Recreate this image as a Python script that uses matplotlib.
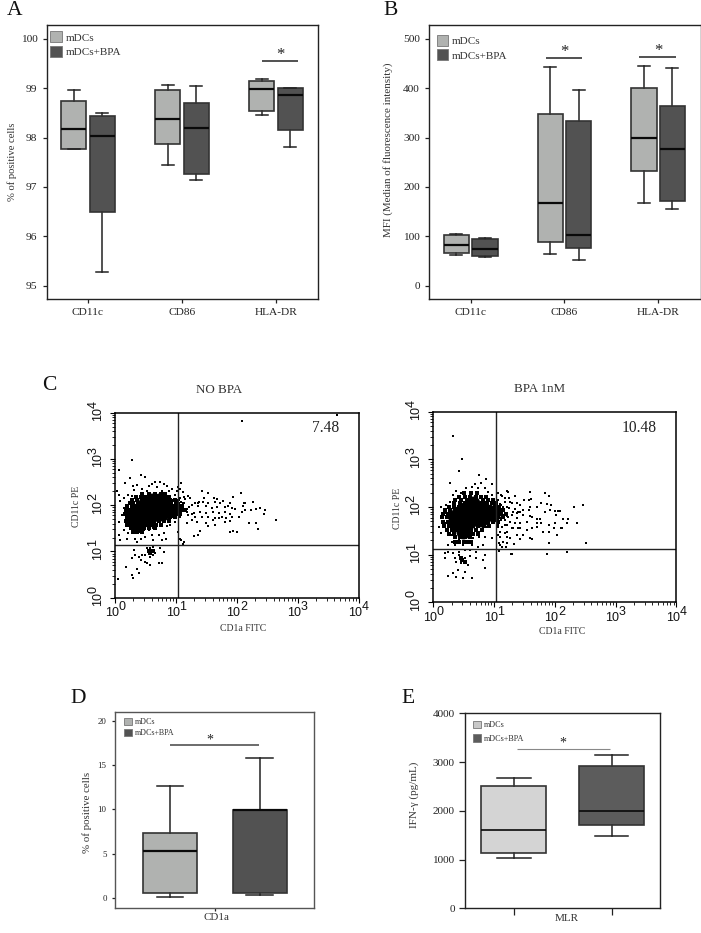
import matplotlib
matplotlib.use("Agg")
import matplotlib.pyplot as plt
from matplotlib.patches import Patch
import numpy as np

plt.rcParams['font.family'] = ['Liberation Serif', 'DejaVu Serif']

W, H = 701, 933

# box values: low whisker, q1, median, q3, high whisker
categories = ['CD11c', 'CD86', 'HLA-DR']
series_names = ['mDCs', 'mDCs+BPA']

a_mdcs = [[97.77, 97.77, 98.17, 98.74, 98.96],
          [97.45, 97.87, 98.38, 98.97, 99.07],
          [98.45, 98.54, 98.99, 99.14, 99.18]]
a_bpa = [[95.28, 96.50, 98.04, 98.44, 98.50],
         [97.14, 97.27, 98.20, 98.71, 99.05],
         [97.81, 98.15, 98.86, 99.00, 99.00]]
a_ticks = [95, 96, 97, 98, 99, 100]

b_mdcs = [[62, 67, 82, 102, 105],
          [65, 89, 167, 348, 442],
          [167, 233, 299, 400, 445]]
b_bpa = [[58, 61, 75, 95, 97],
         [53, 76, 102, 333, 396],
         [155, 172, 277, 364, 441]]
b_ticks = [0, 100, 200, 300, 400, 500]

d_mdcs = [0.1, 0.55, 5.35, 7.4, 12.7]
d_bpa = [0.3, 0.55, 9.9, 9.9, 15.8]
d_ticks = [0, 5, 10, 15, 20]

e_mdcs = [1030, 1140, 1600, 2510, 2665]
e_bpa = [1490, 1700, 2000, 2925, 3150]
e_ticks = [0, 1000, 2000, 3000, 4000]

# flow cytometry, log10 of (CD1a FITC, CD11c PE), read dot by dot
nobpa_core = [(.61, 2.11), (.72, 2.11), (.50, 2.04), (.63, 2.00), (.77, 2.00), (.44, 1.93),
              (.58, 1.90), (.72, 1.90), (.83, 1.93), (.36, 1.82), (.50, 1.79), (.63, 1.79),
              (.77, 1.82), (.31, 1.75), (.42, 1.68), (.55, 1.68), (.39, 1.57), (.31, 1.64)]
nobpa_halo = [(.45, 2.25), (.55, 2.25), (.65, 2.25), (.75, 2.25), (.82, 2.25),
              (.35, 2.18), (.42, 2.18), (.50, 2.18), (.58, 2.18), (.66, 2.18), (.74, 2.18), (.82, 2.18), (.88, 2.18),
              (.28, 2.12), (.36, 2.12), (.44, 2.12), (.52, 2.12), (.84, 2.12), (.90, 2.12), (.98, 2.12),
              (.24, 2.05), (.30, 2.05), (.38, 2.05), (.44, 2.05), (.86, 2.05), (.92, 2.05), (1.00, 2.05),
              (.20, 1.98), (.28, 1.98), (.35, 1.98), (.90, 1.98), (.97, 1.98), (1.03, 1.98), (1.10, 1.98),
              (.18, 1.90), (.25, 1.90), (.32, 1.90), (.90, 1.90), (.96, 1.90), (1.02, 1.90), (1.08, 1.90), (1.15, 1.90),
              (.16, 1.82), (.22, 1.82), (.28, 1.82), (.88, 1.82), (.94, 1.82), (1.00, 1.82), (1.06, 1.82),
              (.20, 1.74), (.24, 1.74), (.66, 1.74), (.74, 1.74), (.82, 1.74), (.90, 1.74), (.98, 1.74),
              (.18, 1.66), (.24, 1.66), (.64, 1.66), (.72, 1.66), (.80, 1.66), (.88, 1.66),
              (.20, 1.58), (.26, 1.58), (.52, 1.58), (.60, 1.58), (.68, 1.58), (.76, 1.58),
              (.26, 1.50), (.32, 1.50), (.40, 1.50), (.48, 1.50), (.56, 1.50), (.66, 1.50),
              (.30, 1.42), (.36, 1.42), (.44, 1.42),
              (.55, 1.02), (.58, .97), (.62, 1.00)]
nobpa_dots = [(2.09, 3.83), (3.64, 3.95), (.07, 2.76), (.28, 2.98), (.05, .40),
              (.43, 2.65), (.50, 2.62), (.25, 2.58), (.17, 2.47), (.66, 2.51), (.74, 2.51),
              (.61, 2.46), (.80, 2.46), (.55, 2.41), (.69, 2.40), (.85, 2.41), (.36, 2.44),
              (.29, 2.41), (.31, 2.33), (.44, 2.34), (.53, 2.31), (.77, 2.31), (.88, 2.31),
              (.94, 2.36), (1.02, 2.31), (.21, 2.22), (.28, 2.20), (.14, 2.15), (.09, 2.10),
              (.03, 2.31), (.07, 2.22), (.91, 2.18), (.99, 2.22), (.96, 2.11), (1.07, 2.15),
              (1.15, 2.13), (1.05, 2.04), (1.13, 2.04), (1.21, 1.97), (.99, 1.93), (1.05, 1.86),
              (1.18, 1.86), (1.26, 1.82), (1.37, 2.04), (1.07, 1.75), (.96, 1.75), (.91, 1.68),
              (.99, 1.64), (.85, 1.54), (.91, 1.57), (.20, 1.97), (.14, 1.93), (.22, 1.82),
              (.12, 1.79), (.17, 1.69), (.06, 1.64), (.20, 1.57), (.25, 1.50), (.14, 1.46),
              (.22, 1.39), (.31, 1.43), (.39, 1.43), (.47, 1.46), (.55, 1.46), (.63, 1.50),
              (.74, 1.54), (.80, 1.39), (.72, 1.36), (.61, 1.36), (.50, 1.32), (.42, 1.28),
              (.33, 1.28), (.36, 1.21), (.63, 1.25), (.77, 1.25), (.83, 1.28), (.20, 1.28),
              (.06, 1.36), (.09, 1.25), (1.07, 1.28), (1.13, 1.21),
              (.53, 1.07), (.58, 1.07), (.63, 1.09), (.74, 1.07), (.80, .99), (.66, .97),
              (.55, .99), (.50, .92), (.58, .89), (.63, .92), (.44, .92), (.31, 1.03),
              (.33, .92), (.39, .87), (.28, .85), (.42, .82), (.50, .78), (.58, .71),
              (.72, .74), (.77, .74), (.53, .74), (.36, .63), (.18, .66), (.28, .49),
              (.29, .42), (.39, .53),
              (1.08, 2.49), (1.03, 2.40), (1.06, 2.36), (1.11, 2.29), (1.19, 2.20), (1.14, 2.18),
              (1.23, 2.15), (1.42, 2.31), (1.53, 2.26), (1.46, 2.16), (1.63, 2.15), (1.68, 2.13),
              (1.78, 2.10), (1.94, 2.17), (2.07, 2.26), (2.27, 2.08), (2.11, 2.05), (2.14, 2.04),
              (1.31, 2.05), (1.38, 2.08), (1.45, 2.06), (1.53, 2.04), (1.64, 2.06), (1.72, 2.04),
              (1.89, 2.04), (1.26, 2.00), (1.36, 1.98), (1.50, 1.99), (1.59, 1.95), (1.67, 1.97),
              (1.81, 1.97), (1.86, 1.98), (2.10, 1.98), (2.38, 1.95), (2.31, 1.92), (2.23, 1.90),
              (2.46, 1.90), (1.92, 1.93), (1.97, 1.91), (2.08, 1.86), (2.45, 1.81), (1.18, 1.91),
              (1.29, 1.84), (1.40, 1.86), (1.50, 1.84), (1.61, 1.86), (1.70, 1.84), (1.81, 1.86),
              (1.89, 1.82), (2.03, 1.75), (2.13, 1.90), (1.20, 1.79), (1.31, 1.75), (1.42, 1.74),
              (1.53, 1.75), (1.64, 1.73), (1.75, 1.75), (1.83, 1.72), (1.92, 1.74), (1.18, 1.61),
              (1.26, 1.68), (1.34, 1.64), (1.50, 1.61), (1.61, 1.68), (1.70, 1.72), (1.81, 1.64),
              (1.89, 1.66), (2.20, 1.61), (2.31, 1.61), (2.64, 1.69), (2.34, 1.48), (1.64, 1.57),
              (1.53, 1.55), (1.89, 1.43), (1.94, 1.45), (2.01, 1.43), (1.40, 1.45), (1.37, 1.35),
              (1.30, 1.34), (1.04, 1.43), (1.05, 1.28), (1.08, 1.25), (1.14, 1.21), (1.12, 1.16),
              (1.01, 2.11), (1.05, 2.11), (1.08, 2.08), (1.01, 2.00), (1.07, 1.98), (1.01, 1.90),
              (1.07, 1.86), (1.03, 1.79), (1.09, 1.82), (1.12, 2.04)]

bpa_core = [(.65, 2.08), (.54, 1.97), (.71, 1.97), (.82, 1.97), (.96, 1.90), (.41, 1.87),
            (.57, 1.83), (.71, 1.83), (.85, 1.83), (.98, 1.83), (.35, 1.73), (.49, 1.73),
            (.63, 1.73), (.79, 1.73), (.54, 1.59), (.41, 1.62), (.49, 1.48)]
bpa_halo = [(.50, 2.30), (.62, 2.30), (.72, 2.30),
            (.42, 2.22), (.52, 2.22), (.60, 2.22), (.70, 2.22), (.78, 2.22), (.86, 2.22),
            (.36, 2.15), (.46, 2.15), (.55, 2.15), (.82, 2.15), (.90, 2.15), (.98, 2.15),
            (.34, 2.08), (.44, 2.08), (.52, 2.08), (.80, 2.08), (.88, 2.08), (.96, 2.08), (1.04, 2.08),
            (.26, 2.00), (.34, 2.00), (.42, 2.00), (.94, 2.00), (1.02, 2.00), (1.08, 2.00),
            (.20, 1.93), (.28, 1.93), (.36, 1.93), (1.08, 1.93), (1.14, 1.93),
            (.16, 1.86), (.24, 1.86), (.30, 1.86), (1.06, 1.86), (1.12, 1.86), (1.20, 1.86),
            (.14, 1.78), (.22, 1.78), (.28, 1.78), (.98, 1.78), (1.06, 1.78), (1.14, 1.78),
            (.16, 1.68), (.24, 1.68), (.90, 1.68), (.98, 1.68), (1.06, 1.68),
            (.18, 1.60), (.26, 1.60), (.32, 1.60), (.66, 1.60), (.74, 1.60), (.84, 1.60), (.92, 1.60),
            (.22, 1.52), (.30, 1.52), (.36, 1.52), (.62, 1.52), (.70, 1.52), (.80, 1.52),
            (.26, 1.44), (.34, 1.44), (.58, 1.44), (.66, 1.44), (.74, 1.44),
            (.36, 1.36), (.44, 1.36), (.52, 1.36), (.60, 1.36),
            (.36, 1.26), (.42, 1.26), (.50, 1.26), (.56, 1.26), (.62, 1.26),
            (.45, .92), (.48, .88), (.52, .85)]
bpa_dots = [(.32, 3.48), (.48, 3.01),
            (.43, 2.76), (.76, 2.67), (.28, 2.51), (.68, 2.48), (.79, 2.50), (.87, 2.58),
            (.96, 2.48), (.54, 2.39), (.64, 2.43), (.74, 2.39), (.85, 2.39), (.38, 2.34),
            (.32, 2.25), (.46, 2.29), (.90, 2.32), (.97, 2.25), (1.12, 2.25), (1.23, 2.32),
            (1.34, 2.23), (1.07, 2.15), (1.18, 2.18), (1.26, 2.11), (1.37, 2.08), (.21, 2.04),
            (.12, 2.01), (.27, 2.11), (1.12, 2.04), (1.21, 1.99), (1.31, 1.90), (1.42, 1.90),
            (1.09, 1.90), (1.23, 1.80), (1.12, 1.73), (1.37, 1.76), (.19, 1.87), (.13, 1.76),
            (.21, 1.66), (.10, 1.59), (.24, 1.55), (.12, 1.45), (.30, 1.41), (.35, 1.34),
            (.76, 1.48), (.87, 1.59), (.96, 1.66), (1.07, 1.59), (1.18, 1.62), (1.29, 1.55),
            (1.40, 1.55), (1.18, 1.45), (1.26, 1.34), (1.07, 1.41), (1.15, 1.27), (.76, 1.38),
            (.85, 1.38), (.96, 1.34), (.65, 1.34), (.54, 1.34), (.43, 1.31), (.30, 1.27),
            (.24, 1.20), (.35, 1.20), (.49, 1.20), (.63, 1.20), (.74, 1.17), (.82, 1.20),
            (1.09, 1.20),
            (.24, 1.06), (.19, 1.03), (.32, 1.03), (.43, 1.06), (.52, 1.10), (.60, 1.10),
            (.71, 1.06), (.85, .99), (.82, .89), (.71, .94), (.60, .97), (.52, .92),
            (.43, .99), (.35, .92), (.38, .85), (.46, .82), (.57, .78), (.19, .94),
            (.85, .71), (1.29, 1.01), (.41, .68), (.52, .64), (.32, .61), (.24, .55),
            (.49, .50), (.64, .52), (.38, .54),
            (1.07, 2.29), (1.21, 2.34), (1.13, 2.24), (1.24, 2.18), (1.35, 2.23), (1.59, 2.32),
            (1.84, 2.29), (1.91, 2.24), (1.50, 2.15), (1.57, 2.15), (1.61, 2.16), (1.18, 2.11),
            (1.29, 2.08), (1.43, 2.04), (1.59, 2.01), (1.70, 1.99), (1.78, 2.08), (1.87, 2.06),
            (1.94, 2.04), (2.32, 2.01), (2.47, 2.04), (1.10, 2.06), (1.07, 1.97), (1.15, 2.01),
            (1.24, 1.97), (1.35, 1.95), (1.40, 1.90), (1.48, 1.94), (1.57, 1.94), (1.84, 1.90),
            (1.92, 1.94), (2.00, 1.92), (2.06, 1.92), (2.09, 1.92), (2.02, 1.83), (2.14, 1.74),
            (2.21, 1.74), (2.36, 1.66), (2.20, 1.66), (2.11, 1.55), (2.12, 1.55), (1.07, 1.87),
            (1.14, 1.83), (1.21, 1.81), (1.29, 1.83), (1.37, 1.87), (1.48, 1.83), (1.59, 1.81),
            (1.62, 1.78), (1.70, 1.74), (1.76, 1.74), (1.10, 1.76), (1.18, 1.73), (1.26, 1.69),
            (1.35, 1.67), (1.43, 1.67), (1.54, 1.69), (1.70, 1.66), (1.78, 1.66), (1.90, 1.62),
            (2.00, 1.67), (1.07, 1.62), (1.13, 1.59), (1.21, 1.62), (1.32, 1.55), (1.43, 1.55),
            (1.54, 1.52), (1.62, 1.55), (1.70, 1.59), (1.81, 1.48), (1.90, 1.48), (1.98, 1.55),
            (2.03, 1.41), (1.10, 1.48), (1.21, 1.48), (1.37, 1.41), (1.48, 1.41), (1.59, 1.34),
            (1.62, 1.32), (1.10, 1.38), (1.21, 1.36), (1.43, 1.32), (1.90, 1.25), (2.51, 1.25),
            (1.08, 1.24), (1.21, 1.25), (1.33, 1.22), (1.13, 1.17), (1.19, 1.17), (1.08, 1.08),
            (1.28, 1.01), (1.87, 1.01), (2.20, 1.06)]

decades = [0, 1, 2, 3, 4]


def px_axes(fig, left, top, right, bottom):
    return fig.add_axes([left / W, 1 - bottom / H, (right - left) / W, (bottom - top) / H])


def stats(values):
    return {'whislo': values[0], 'q1': values[1], 'med': values[2], 'q3': values[3],
            'whishi': values[4], 'fliers': []}


def boxes(ax, values, pos, width, cap, color, edge='#333333', med_lw=1.6):
    ax.bxp([stats(v) for v in values], positions=pos, widths=width, capwidths=cap,
           patch_artist=True, showfliers=False, manage_ticks=False,
           boxprops=dict(facecolor=color, edgecolor=edge, linewidth=1.2),
           whiskerprops=dict(color=edge, linewidth=1.2),
           capprops=dict(color='#222222', linewidth=1.1),
           medianprops=dict(color='#0a0a0a', linewidth=med_lw))


def legend_at(ax, x, y, size, colors, hl, hh, spacing, pad):
    handles = [Patch(facecolor=c, edgecolor='#777777', linewidth=.6) for c in colors]
    leg = ax.legend(handles, series_names, loc='upper left', frameon=False, fontsize=size,
                    bbox_to_anchor=(x / W, 1 - y / H), bbox_transform=plt.gcf().transFigure,
                    borderaxespad=0, borderpad=0, handlelength=hl, handleheight=hh,
                    labelspacing=spacing, handletextpad=pad, labelcolor='#333333')
    return leg


def sig(ax, x0, x1, y, star_x, star_y, color='#222222', lw=1.1, size=12):
    ax.plot([x0, x1], [y, y], color=color, lw=lw, solid_capstyle='butt')
    ax.text(star_x, star_y, '*', ha='center', va='center', fontsize=size, color='#222222')


def style(ax, ticks, size=8.2, length=3, color='#222222', spine='#222222', lw=1.0):
    ax.set_yticks(ticks)
    ax.tick_params(axis='both', labelsize=size, length=length, width=.9, color=color,
                   labelcolor='#222222', pad=3.5)
    for s in ax.spines.values():
        s.set_color(spine)
        s.set_linewidth(lw)


def log_labels(ax):
    # the decade labels of the cytometer plots, with full size exponents
    for d in decades:
        ax.annotate('10', xy=(10.0 ** d, 0), xycoords=('data', 'axes fraction'),
                    xytext=(-2.4, -11.2), textcoords='offset points', ha='center', va='center',
                    fontsize=9, family='Liberation Sans', color='#111111')
        ax.annotate(str(d), xy=(10.0 ** d, 0), xycoords=('data', 'axes fraction'),
                    xytext=(4.8, -6.8), textcoords='offset points', ha='center', va='center',
                    fontsize=9, family='Liberation Sans', color='#111111')
        ax.annotate('10', xy=(0, 10.0 ** d), xycoords=('axes fraction', 'data'),
                    xytext=(-12.2, -1), textcoords='offset points', ha='center', va='center',
                    fontsize=9, family='Liberation Sans', color='#111111', rotation=90)
        ax.annotate(str(d), xy=(0, 10.0 ** d), xycoords=('axes fraction', 'data'),
                    xytext=(-15.6, 6.2), textcoords='offset points', ha='center', va='center',
                    fontsize=9, family='Liberation Sans', color='#111111', rotation=90)


def cytometry(ax, core, halo, dots, gate_x, gate_y, value, value_x, value_y):
    core = np.array(core)
    halo = np.array(halo)
    dots = np.array(dots)
    ax.set_xscale('log')
    ax.set_yscale('log')
    ax.set_xlim(1, 1e4)
    ax.set_ylim(1, 1e4)
    ax.scatter(10 ** core[:, 0], 10 ** core[:, 1], s=100, c='black', linewidths=0)
    ax.scatter(10 ** halo[:, 0], 10 ** halo[:, 1], s=5, c='black', marker='s', linewidths=0)
    ax.scatter(10 ** dots[:, 0], 10 ** dots[:, 1], s=1.2, c='black', marker='s', linewidths=0)
    ax.axvline(gate_x, color='#222222', lw=1.0)
    ax.axhline(gate_y, color='#222222', lw=1.0)
    ax.text(value_x, value_y, value, transform=ax.transAxes, ha='center', va='center',
            fontsize=11.2, color='#222222')
    ax.tick_params(which='major', length=3.5, width=.8, labelbottom=False, labelleft=False)
    ax.tick_params(which='minor', length=2, width=.6, labelbottom=False, labelleft=False)
    for s in ax.spines.values():
        s.set_linewidth(1.1)
    log_labels(ax)


fig = plt.figure(figsize=(W / 100, H / 100), dpi=100)


def label(x, y, s, size=8, rotation=0, color='#333333', ha='center', va='center'):
    fig.text(x / W, 1 - y / H, s, fontsize=size, rotation=rotation, color=color, ha=ha, va=va)


light = '#b0b2b0'
dark = '#525252'
base = np.arange(3)
off = 0.152

# A
ax = px_axes(fig, 46.5, 25, 317.5, 299)
boxes(ax, a_mdcs, base - off, .27, .128, light)
boxes(ax, a_bpa, base + off, .27, .128, dark)
ax.set_xlim(-.44, 2.44)
ax.set_ylim(94.73, 100.28)
ax.set_xticks(base, categories)
style(ax, a_ticks)
sig(ax, 1.848, 2.231, 99.55, 2.05, 99.68)
legend_at(ax, 50, 31.5, 8, [light, dark], 1.05, 1.1, .3, .35)
label(12, 162, '% of positive cells', 7.7, 90)

# B
ax = px_axes(fig, 429, 25, 700.5, 299)
boxes(ax, b_mdcs, base - off, .27, .128, light)
boxes(ax, b_bpa, base + off, .27, .128, dark)
ax.set_xlim(-.445, 2.452)
ax.set_ylim(-27, 528)
ax.set_xticks(base, categories)
style(ax, b_ticks)
sig(ax, .804, 1.191, 461.6, 1.0, 473)
sig(ax, 1.80, 2.188, 463, 2.006, 475)
legend_at(ax, 436.5, 35, 8, [light, dark], 1.05, 1.1, .3, .35)
label(388, 150, 'MFI (Median of fluorescence intensity)', 7.9, 90)

# C
ax = px_axes(fig, 115, 412.7, 358.7, 597.7)
cytometry(ax, nobpa_core, nobpa_halo, nobpa_dots, 10.8, 13.8, '7.48', .866, .917)
ax = px_axes(fig, 433.3, 411.7, 676.3, 602.3)
cytometry(ax, bpa_core, bpa_halo, bpa_dots, 10.8, 13.1, '10.48', .848, .916)
label(219.3, 390, 'NO BPA', 9.4)
label(539.3, 389, 'BPA 1nM', 9.4)
label(243.3, 628.3, 'CD1a FITC', 7)
label(562.3, 631, 'CD1a FITC', 7)
label(76.7, 506, 'CD11c PE', 7, 90)
label(397.3, 508.3, 'CD11c PE', 7, 90)

# D
ax = px_axes(fig, 115, 711.7, 314.3, 908)
boxes(ax, [d_mdcs], [0], .6, .3, light)
boxes(ax, [d_bpa], [1], .6, .3, dark)
ax.set_xlim(-.613, 1.609)
ax.set_ylim(-1.13, 21.05)
ax.set_xticks([.5], [''])
style(ax, d_ticks, size=6.4, length=2.5, spine='#555555')
sig(ax, 0, .99, 17.3, .443, 17.9, color='#444444', size=10)
legend_at(ax, 124.3, 717.7, 5.8, [light, dark], 1.0, 1.05, .33, .35)
label(87.3, 812, '% of positive cells', 7.8, 90)
label(216, 918, 'CD1a', 7.9)

# E
ax = px_axes(fig, 465.3, 713.3, 660.3, 908.3)
boxes(ax, [e_mdcs], [0], .665, .34, '#d4d4d4', med_lw=1.2)
boxes(ax, [e_bpa], [1], .665, .34, '#5c5c5c', med_lw=1.2)
ax.set_xlim(-.498, 1.497)
ax.set_ylim(0, 4000)
ax.set_xticks([0, 1], ['', ''])
style(ax, e_ticks, size=8, length=4)
ax.tick_params(axis='x', length=5)
sig(ax, .028, .98, 3262, .497, 3390, color='#888888', lw=.8, size=10)
legend_at(ax, 472.7, 720.7, 5.9, ['#c8c8c8', '#5c5c5c'], 1.05, 1.05, .63, .35)
label(414, 795, 'IFN-γ (pg/mL)', 8, 90)
label(567, 918.7, 'MLR', 8)

# panel letters
for s, x, y in [('A', 7, 15), ('B', 383, 15), ('C', 42, 390), ('D', 70.7, 702.7), ('E', 401.7, 702.7)]:
    label(x, y, s, 15.5, color='#111111', ha='left', va='baseline')

fig.savefig('out.png', dpi=100)
